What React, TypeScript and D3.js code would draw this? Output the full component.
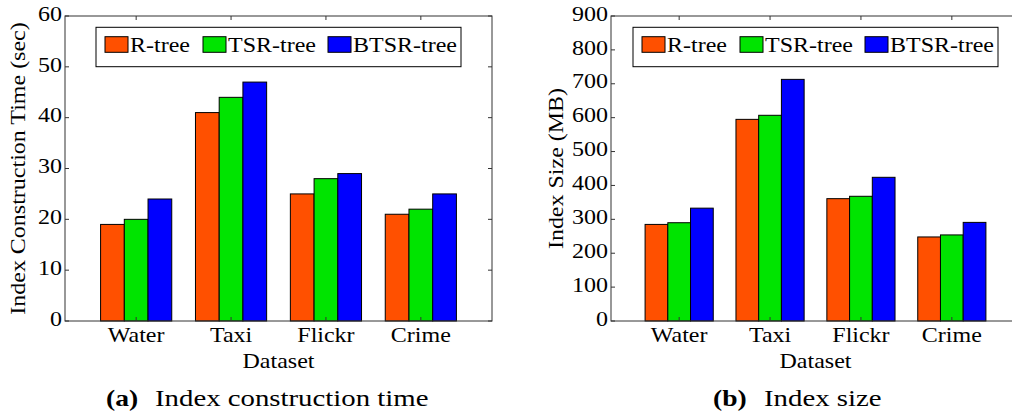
import React from 'react';
import * as d3 from 'd3';

// Datasets on the x axis and the three index structures compared
const datasets = ['Water', 'Taxi', 'Flickr', 'Crime'];
const seriesNames = ['R-tree', 'TSR-tree', 'BTSR-tree'];
const seriesColors = ['#ff5000', '#00e400', '#0000ff'];

// Index construction time (sec)
const rtreeTime = [19, 41, 25, 21];
const tsrTime = [20, 44, 28, 22];
const btsrTime = [24, 47, 29, 25];
const timeTicks = [0, 10, 20, 30, 40, 50, 60];

// Index size (MB)
const rtreeSize = [285, 595, 361, 248];
const tsrSize = [290, 607, 368, 254];
const btsrSize = [333, 713, 424, 291];
const sizeTicks = [0, 100, 200, 300, 400, 500, 600, 700, 800, 900];

const FONT = "'Liberation Serif', 'Times New Roman', serif";
const SX = 1.2; // horizontal glyph stretch

type TProps = {
  x: number; y: number; anchor?: 'start' | 'middle' | 'end';
  rotate?: number; size?: number; weight?: string; sx?: number; children: React.ReactNode;
};
function T({ x, y, anchor = 'start', rotate = 0, size = 20, weight = 'normal', sx = SX, children }: TProps) {
  return (
    <g transform={`translate(${x},${y})${rotate ? ` rotate(${rotate})` : ''} scale(${sx},1)`}>
      <text fontFamily={FONT} fontSize={size} fontWeight={weight} textAnchor={anchor} fill="#000">
        {children}
      </text>
    </g>
  );
}

type PanelProps = {
  x0: number; x1: number; y0: number; y1: number;
  series: number[][]; ticks: number[]; yTitle: string; titleX: number;
};

function Panel({ x0, x1, y0, y1, series, ticks, yTitle, titleX }: PanelProps) {
  const y = d3.scaleLinear().domain([0, ticks[ticks.length - 1]]).range([y1, y0]);
  const x = d3.scaleBand<string>().domain(datasets).range([x0, x1]).paddingInner(0.25).paddingOuter(0.375);
  const xs = d3.scaleBand<string>().domain(seriesNames).range([0, x.bandwidth()]).padding(0);
  const axisColor = '#333';
  const tickLen = 4;
  const legendW = 365;
  const lx = (x0 + x1) / 2 - legendW / 2;
  const legendOffsets = [9, 107, 232];

  return (
    <g>
      {/* bars */}
      {datasets.map((d, i) => (
        <g key={d}>
          {seriesNames.map((s, j) => (
            <rect key={s}
              x={(x(d) as number) + (xs(s) as number)}
              y={y(series[j][i])}
              width={xs.bandwidth()}
              height={y(0) - y(series[j][i])}
              fill={seriesColors[j]} stroke="#000" strokeWidth={1} />
          ))}
        </g>
      ))}
      {/* box */}
      <rect x={x0} y={y0} width={x1 - x0} height={y1 - y0} fill="none" stroke={axisColor} strokeWidth={1} />
      {/* y ticks */}
      {ticks.map(t => (
        <g key={t}>
          <line x1={x0} x2={x0 + tickLen} y1={y(t)} y2={y(t)} stroke={axisColor} />
          <line x1={x1} x2={x1 - tickLen} y1={y(t)} y2={y(t)} stroke={axisColor} />
          <T x={x0 - 3} y={y(t) + 4.7} anchor="end">{t}</T>
        </g>
      ))}
      {/* x ticks */}
      {datasets.map(d => {
        const cx = (x(d) as number) + x.bandwidth() / 2;
        return (
          <g key={d}>
            <line x1={cx} x2={cx} y1={y1} y2={y1 - tickLen} stroke={axisColor} />
            <line x1={cx} x2={cx} y1={y0} y2={y0 + tickLen} stroke={axisColor} />
            <T x={cx} y={y1 + 20.5} anchor="middle">{d}</T>
          </g>
        );
      })}
      <T x={(x0 + x1) / 2} y={y1 + 47} anchor="middle">Dataset</T>
      <T x={titleX} y={(y0 + y1) / 2} anchor="middle" rotate={-90}>{yTitle}</T>
      {/* legend */}
      <rect x={lx} y={27.3} width={legendW} height={39.4} fill="#fff" stroke="#000" strokeWidth={1} />
      {seriesNames.map((s, j) => (
        <g key={s}>
          <rect x={lx + legendOffsets[j]} y={36.7} width={23} height={15.6}
            fill={seriesColors[j]} stroke="#000" strokeWidth={1} />
          <T x={lx + legendOffsets[j] + 25} y={52.3}>{s}</T>
        </g>
      ))}
    </g>
  );
}

export default function App() {
  return (
    <svg width={1012} height={414} style={{ position: 'absolute', left: 0, top: 0, background: '#fff' }}>
      <rect width={1012} height={414} fill="#fff" />
      <Panel x0={65} x1={492} y0={16} y1={321}
        series={[rtreeTime, tsrTime, btsrTime]} ticks={timeTicks}
        yTitle="Index Construction Time (sec)" titleX={25} />
      <Panel x0={611} x1={1020} y0={16} y1={321}
        series={[rtreeSize, tsrSize, btsrSize]} ticks={sizeTicks}
        yTitle="Index Size (MB)" titleX={563} />
      {/* sub-figure captions */}
      <T x={106} y={406} size={24} weight="bold" sx={1.15}>(a)</T>
      <T x={155} y={406} size={24} sx={1.2}>Index construction time</T>
      <T x={713} y={406} size={24} weight="bold" sx={1.15}>(b)</T>
      <T x={764} y={406} size={24} sx={1.2}>Index size</T>
    </svg>
  );
}
